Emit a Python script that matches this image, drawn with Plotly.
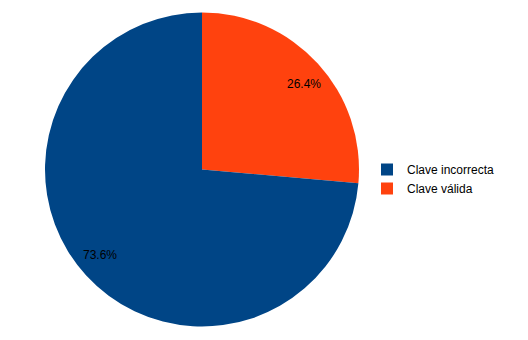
import math
import plotly.graph_objects as go

labels = ["Clave válida", "Clave incorrecta"]
values = [26.4, 73.6]
colors = ["#ff420e", "#004586"]

W, H = 528, 340
# pie geometry (pixels)
left, right, top, bottom = 45, 359, 12, 327
cx = (left + right) / 2
cy = (top + bottom) / 2
R = (right - left) / 2

fig = go.Figure(go.Pie(
    labels=labels,
    values=values,
    marker=dict(colors=colors, line=dict(width=0)),
    sort=False,
    direction="clockwise",
    rotation=0,
    textinfo="none",
    hoverinfo="label+percent",
    domain=dict(x=[left / W, right / W], y=[1 - bottom / H, 1 - top / H]),
))

# percentage labels: anchored at a point on each slice's mid-angle,
# text box extending outward (away from the centre)
total = sum(values)
cum = 0.0
annotations = []
for v in values:
    theta = (cum + v / 2) / total * 2 * math.pi  # clockwise-from-top angle
    cum += v
    r = 0.72 * R
    s, c = math.sin(theta), math.cos(theta)
    px = cx + r * s
    py = cy - r * c
    annotations.append(dict(
        x=px / W, y=1 - py / H, xref="paper", yref="paper",
        xanchor="left" if s >= 0 else "right",
        yanchor="bottom" if c >= 0 else "top",
        text=f"{v / total * 100:.1f}%", showarrow=False,
        font=dict(family="Liberation Sans, Arial, sans-serif", size=12, color="#000000"),
    ))

fig.update_layout(
    width=W, height=H,
    margin=dict(l=0, r=0, t=0, b=0),
    paper_bgcolor="white",
    plot_bgcolor="white",
    font=dict(family="Liberation Sans, Arial, sans-serif", size=12, color="#000000"),
    showlegend=True,
    legend=dict(x=367 / W, y=1 - 179 / H, xanchor="left", yanchor="middle",
                traceorder="reversed", font=dict(size=12)),
    annotations=annotations,
)

fig.write_html("out.html")
